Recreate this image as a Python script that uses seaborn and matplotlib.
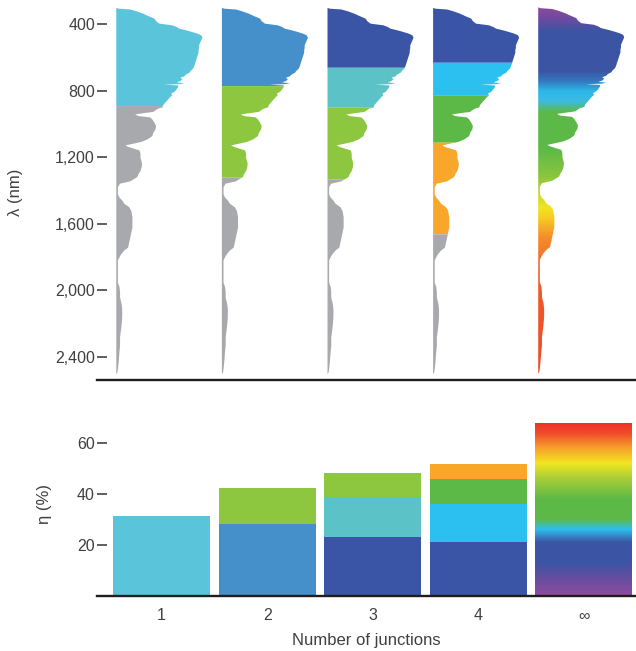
import numpy as np
import pandas as pd
import matplotlib
matplotlib.use("Agg")
import matplotlib.pyplot as plt
import seaborn as sns
from matplotlib.colors import LinearSegmentedColormap
from matplotlib.ticker import FuncFormatter

# ---------------------------------------------------------------- data
# AM1.5G-like solar spectrum: wavelength (nm) and spectral irradiance (W m^-2 nm^-1)
wavelength = [300, 305, 310, 320, 335, 350, 365, 380, 395, 405, 415, 425, 435, 445,
              455, 465, 480, 495, 510, 525, 540, 555, 570, 590, 610, 630, 650, 665,
              680, 690, 700, 712, 720, 728, 740, 748, 752, 758, 762, 766, 775, 790,
              805, 815, 825, 840, 855, 870, 885, 898, 905, 915, 925, 932, 940, 950,
              958, 970, 990, 1010, 1030, 1050, 1070, 1090, 1105, 1115, 1126, 1135,
              1146, 1156, 1175, 1200, 1236, 1260, 1280, 1300, 1316, 1330, 1342, 1356,
              1377, 1400, 1420, 1440, 1457, 1477, 1497, 1520, 1557, 1590, 1620, 1650,
              1680, 1710, 1740, 1757, 1780, 1797, 1817, 1850, 1880, 1920, 1950, 1978,
              2010, 2040, 2080, 2110, 2160, 2200, 2230, 2280, 2330, 2360, 2400, 2440,
              2470, 2490, 2500]
irradiance = [0.00, 0.04, 0.26, 0.37, 0.50, 0.60, 0.71, 0.74, 0.80, 1.04, 1.12, 1.17,
              1.30, 1.41, 1.51, 1.58, 1.60, 1.58, 1.56, 1.54, 1.54, 1.53, 1.53, 1.51,
              1.49, 1.47, 1.45, 1.43, 1.38, 1.36, 1.30, 1.26, 1.19, 1.23, 1.19, 1.12,
              1.26, 1.19, 0.89, 1.15, 1.15, 1.12, 1.08, 1.02, 1.04, 0.99, 0.95, 0.91,
              0.87, 0.86, 0.78, 0.73, 0.69, 0.52, 0.35, 0.41, 0.63, 0.67, 0.71, 0.74,
              0.73, 0.69, 0.67, 0.58, 0.47, 0.33, 0.17, 0.22, 0.33, 0.43, 0.45, 0.45,
              0.48, 0.47, 0.45, 0.41, 0.39, 0.32, 0.26, 0.07, 0.03, 0.03, 0.03, 0.06,
              0.11, 0.15, 0.24, 0.28, 0.30, 0.30, 0.30, 0.28, 0.26, 0.24, 0.22, 0.15,
              0.09, 0.06, 0.03, 0.03, 0.03, 0.03, 0.03, 0.06, 0.07, 0.07, 0.10, 0.11,
              0.11, 0.10, 0.09, 0.07, 0.07, 0.06, 0.05, 0.04, 0.03, 0.02, 0.00]

junction_labels = ["1", "2", "3", "4", "\u221e"]

# band-gap cut-off wavelengths (nm) of each stack, top cell first
cutoffs_1 = [890]
cutoffs_2 = [770, 1320]
cutoffs_3 = [660, 900, 1330]
cutoffs_4 = [630, 825, 1110, 1660]

# efficiency contributed by each junction (%), top cell first
eta_1 = [31.4]
eta_2 = [28.1, 14.4]
eta_3 = [23.3, 15.4, 9.8]
eta_4 = [21.1, 15.0, 9.9, 6.0]
eta_inf = 68.1

# ---------------------------------------------------------------- styles
CYAN1 = "#5AC4DA"
BLUE2 = "#4590CB"
GREEN_L = "#8DC63F"
DBLUE = "#3A55A5"
TEAL = "#5BC2C8"
CYAN4 = "#2CC0F0"
GREEN = "#5DB947"
ORANGE = "#F9A72B"
GREY = "#A8A9AD"
TEXT = "#404040"

cell_colors = [
    [CYAN1],
    [BLUE2, GREEN_L],
    [DBLUE, TEAL, GREEN_L],
    [DBLUE, CYAN4, GREEN, ORANGE],
]
cutoffs = [cutoffs_1, cutoffs_2, cutoffs_3, cutoffs_4]
etas = [eta_1, eta_2, eta_3, eta_4]


def lam_stop(nm):
    return (nm - 300) / 2200


spectrum_cmap = LinearSegmentedColormap.from_list("spectrum", [
    (0.0, "#8B4A9C"), (lam_stop(370), "#6A4BA0"), (lam_stop(440), "#3B55A4"),
    (lam_stop(680), "#3B55A4"), (lam_stop(740), "#3478BF"), (lam_stop(800), "#2BB8EA"),
    (lam_stop(860), "#3CBBE2"), (lam_stop(925), "#5DB947"), (lam_stop(1150), "#5DB947"),
    (lam_stop(1320), "#8DC63F"), (lam_stop(1500), "#F0E51F"), (lam_stop(1560), "#F7CF22"),
    (lam_stop(1680), "#F58E2A"), (lam_stop(1900), "#EF5E2A"), (1.0, "#EE4A26")])

eta_cmap = LinearSegmentedColormap.from_list("eta", [
    (0.0, "#8E4B9E"), (6 / 68, "#6B4DA0"), (13 / 68, "#3B55A4"), (21 / 68, "#3B55A4"),
    (26 / 68, "#2DBFEF"), (30 / 68, "#5DB947"), (38 / 68, "#5DB947"),
    (46 / 68, "#A8CE38"), (52 / 68, "#F2E520"), (58 / 68, "#F7A12B"),
    (64 / 68, "#EF4A2B"), (1.0, "#EE3124")])

sns.set_theme(style="white")
plt.rcParams["font.family"] = ["Liberation Sans", "DejaVu Sans"]
plt.rcParams["text.color"] = TEXT
plt.rcParams["axes.labelcolor"] = TEXT
plt.rcParams["xtick.color"] = TEXT
plt.rcParams["ytick.color"] = TEXT

W, H = 636, 651
fig = plt.figure(figsize=(W / 100, H / 100), dpi=100)


def axes_px(x0, y0, x1, y1):
    return fig.add_axes([x0 / W, 1 - y1 / H, (x1 - x0) / W, (y1 - y0) / H])


ax_top = axes_px(97, 0, 636, 380)
ax_bot = axes_px(97, 400, 636, 596)

XLIM = (-0.611, 4.493)
BAR_W = 0.918
BASE_OFF = -0.433           # left edge of each spectrum relative to its column
SCALE = 0.509               # column units per W m^-2 nm^-1

lam = np.array(wavelength, dtype=float)
irr = np.array(irradiance, dtype=float)


def band(lo, hi):
    inside = (lam > lo) & (lam < hi)
    l = np.concatenate([[lo], lam[inside], [hi]])
    return l, np.interp(l, lam, irr)


# ---------------------------------------------------------------- spectra
for i in range(4):
    base = i + BASE_OFF
    edges = [lam[0]] + cutoffs[i] + [lam[-1]]
    colors = cell_colors[i] + [GREY]
    for (lo, hi), c in zip(zip(edges[:-1], edges[1:]), colors):
        l, v = band(lo, hi)
        ax_top.fill_betweenx(l, base, base + v * SCALE, color=c, lw=0)

# continuous rainbow for the infinite stack
base = 4 + BASE_OFF
poly = ax_top.fill_betweenx(lam, base, base + irr * SCALE, color="none", lw=0)
grad = np.linspace(0, 1, 600).reshape(-1, 1)
im = ax_top.imshow(grad, cmap=spectrum_cmap, aspect="auto", origin="upper",
                   extent=[base, base + irr.max() * SCALE + 0.05, lam[-1], lam[0]],
                   interpolation="bilinear", zorder=3)
im.set_clip_path(poly.get_paths()[0], transform=ax_top.transData)

ax_top.set_xlim(*XLIM)
ax_top.set_ylim(2538, 256)
ax_top.set_yticks([400, 800, 1200, 1600, 2000, 2400])
ax_top.yaxis.set_major_formatter(FuncFormatter(lambda v, p: f"{int(v):,}"))
ax_top.set_xticks([])
ax_top.set_ylabel("\u03bb (nm)", fontsize=12)
ax_top.yaxis.set_label_coords(-0.137, 0.495)

# ---------------------------------------------------------------- efficiency bars
for k in range(3, -1, -1):
    rows = [(junction_labels[i], float(np.sum(etas[i][:k + 1])), cell_colors[i][k])
            for i in range(4) if len(etas[i]) > k]
    df = pd.DataFrame(rows, columns=["junctions", "eta", "color"])
    sns.barplot(data=df, x="junctions", y="eta", hue="junctions",
                palette=dict(zip(df["junctions"], df["color"])),
                order=junction_labels, width=BAR_W, dodge=False, legend=False,
                saturation=1, edgecolor="none", linewidth=0, ax=ax_bot)

df_inf = pd.DataFrame({"junctions": [junction_labels[4]], "eta": [eta_inf]})
sns.barplot(data=df_inf, x="junctions", y="eta", order=junction_labels, width=BAR_W,
            color="white", saturation=1, edgecolor="none", linewidth=0, ax=ax_bot)
inf_patch = ax_bot.patches[-1]
bgrad = np.linspace(0, 1, 400).reshape(-1, 1)
bim = ax_bot.imshow(bgrad, cmap=eta_cmap, aspect="auto", origin="lower",
                    extent=[4 - BAR_W / 2, 4 + BAR_W / 2, 0, eta_inf],
                    interpolation="bilinear", zorder=3)
bim.set_clip_path(inf_patch)

ax_bot.set_xlim(*XLIM)
ax_bot.set_ylim(0, 77.0)
ax_bot.set_yticks([20, 40, 60])
ax_bot.set_xticks(range(5))
ax_bot.set_xticklabels(junction_labels)
ax_bot.set_xlabel("Number of junctions", fontsize=12, labelpad=7)
ax_bot.set_ylabel("\u03b7 (%)", fontsize=12)
ax_bot.yaxis.set_label_coords(-0.0835, 0.469)

for ax in (ax_top, ax_bot):
    for side in ("left", "top", "right"):
        ax.spines[side].set_visible(False)
    ax.spines["bottom"].set_color("#1E1E1E")
    ax.spines["bottom"].set_linewidth(1.7)
    ax.spines["bottom"].set_zorder(4)
    ax.patch.set_alpha(0)
    ax.tick_params(axis="y", direction="in", length=7.5, width=1.1, color="#333333",
                   pad=1.5, labelsize=11.5, left=True)
    ax.grid(False)

ax_bot.tick_params(axis="x", length=0, pad=9, labelsize=11.5)

fig.savefig("out.png", dpi=100)
